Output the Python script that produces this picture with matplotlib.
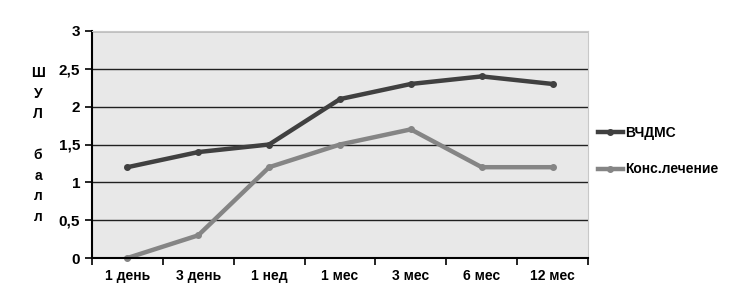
import matplotlib.pyplot as plt

periods = ["1 день", "3 день", "1 нед", "1 мес", "3 мес", "6 мес", "12 мес"]
vchdms = [1.2, 1.4, 1.5, 2.1, 2.3, 2.4, 2.3]
kons = [0, 0.3, 1.2, 1.5, 1.7, 1.2, 1.2]
y_ticks = [0, 0.5, 1, 1.5, 2, 2.5, 3]
y_tick_labels = ["0", "0,5", "1", "1,5", "2", "2,5", "3"]

plt.rcParams['font.family'] = ['Liberation Sans', 'DejaVu Sans']
plt.rcParams['font.weight'] = 'bold'

fig = plt.figure(figsize=(7.54, 2.95), dpi=100)
ax = fig.add_axes([92 / 754, 1 - 258 / 295, (588 - 92) / 754, (258 - 31) / 295])
ax.set_facecolor('#e8e8e8')

x = list(range(len(periods)))
ax.plot(x, vchdms, color='#404040', lw=3.2, marker='o', ms=4, label='ВЧДМС', clip_on=False)
ax.plot(x, kons, color='#858585', lw=3.2, marker='o', ms=4, label='Конс.лечение', clip_on=False)

ax.set_xlim(-0.5, len(periods) - 0.5)
ax.set_ylim(0, 3)
ax.set_yticks(y_ticks)
ax.set_yticklabels(y_tick_labels, fontsize=11, fontweight='bold')
ax.set_xticks(x)
ax.set_xticklabels(periods, fontsize=10, fontweight='bold')
ax.set_xticks([i - 0.5 for i in range(len(periods) + 1)], minor=True)
ax.tick_params(axis='x', which='major', length=0, pad=8)
ax.tick_params(axis='x', which='minor', length=5, width=1.2)
ax.tick_params(axis='y', length=5, width=1.2)
ax.yaxis.grid(True, color='#202020', lw=1)
ax.set_axisbelow(True)
for side in ['top', 'right']:
    ax.spines[side].set_color('#c8c8c8')
ax.spines['left'].set_linewidth(1.5)
ax.spines['bottom'].set_linewidth(1.5)

fig.text(38 / 754, 1 - 145 / 295, "Ш\nУ\nЛ\n\nб\nа\nл\nл", ha='center', va='center',
         fontsize=10, fontweight='bold', linespacing=1.6)

ax.legend(loc='center left', bbox_to_anchor=(1.0, 0.47), frameon=False,
          fontsize=10, handlelength=1.8, handletextpad=0.2, labelspacing=1.6,
          borderaxespad=0.3)

fig.savefig("out.png", dpi=100)
